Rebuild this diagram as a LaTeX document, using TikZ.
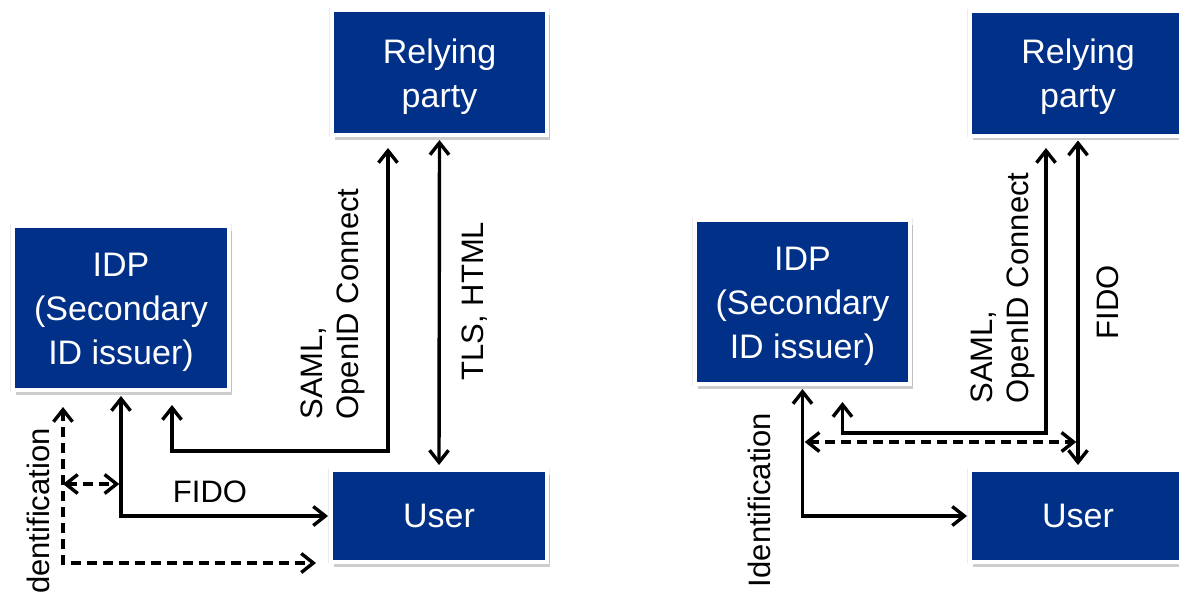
\documentclass[tikz,border=0pt]{standalone}
\usepackage{fontspec}
\setmainfont{Liberation Sans}
\usetikzlibrary{arrows.meta,shadows}
\definecolor{boxblue}{HTML}{003087}
\newcommand{\topstrut}{\rule{0pt}{33pt}}
\begin{document}
\begin{tikzpicture}[x=1pt,y=-1pt,
  box/.style={draw=white, line width=4pt, fill=boxblue, text=white, align=center, inner sep=0pt,
    font=\fontsize{34}{44}\selectfont,
    drop shadow={shadow xshift=3pt, shadow yshift=-4.5pt, opacity=0.28, fill=black!70},
    drop shadow={shadow xshift=0pt, shadow yshift=0pt, shadow scale=1.025, opacity=0.12, fill=black!60}},
  lbl/.style={font=\fontsize{31}{36}\selectfont, inner sep=0pt, align=left},
  conn/.style={line width=3.4pt, {Straight Barb[length=12pt,width=19pt]}-{Straight Barb[length=12pt,width=19pt]}},
  dsh/.style={conn, dash pattern=on 10pt off 6pt}
]
\useasboundingbox (0,0) rectangle (1179,598);
\clip (0,0) rectangle (1179,598);
\fill[white] (0,0) rectangle (1179,598);

% left panel
\node[box, minimum width=215pt, minimum height=125pt] (rpL) at (439.5,72.5) {\topstrut Relying\\party};
\node[box, minimum width=216pt, minimum height=164pt] (idpL) at (121,308) {\topstrut IDP\\(Secondary\\ID issuer)};
\node[box, minimum width=216pt, minimum height=92pt] (userL) at (439,516) {User};

% right panel
\node[box, minimum width=216pt, minimum height=125pt] (rpR) at (1078,73) {\topstrut Relying\\party};
\node[box, minimum width=215pt, minimum height=164pt] (idpR) at (802.5,302) {\topstrut IDP\\(Secondary\\ID issuer)};
\node[box, minimum width=216pt, minimum height=92pt] (userR) at (1078,516) {User};

% left connectors
\coordinate (samlL) at (388,451);
\draw[conn, shorten <=13pt, shorten >=11pt] ([xshift=51pt]idpL.south) |- (samlL) -- (samlL |- rpL.south);
\draw[conn, shorten <=3pt, shorten >=3pt] (rpL.south) -- (userL.north);
\draw[conn, shorten <=4pt, shorten >=1pt] (idpL.south) |- (userL.west);
\coordinate (dA) at (63,484);
\draw[dsh, shorten >=1.7pt] (dA) -- (dA -| idpL.south);
\coordinate (iT) at (63,407);
\coordinate (iB) at (63,563);
\coordinate (iE) at (316,563);
\draw[dsh] (iT) -- (iB) -- (iE);

% right connectors
\draw[conn, shorten <=3pt, shorten >=1pt] (idpR.south) |- (userR.west);
\coordinate (samlR) at (1046,433);
\draw[conn, shorten <=16pt, shorten >=10.5pt] ([xshift=40pt]idpR.south) |- (samlR) -- (samlR |- rpR.south);
\coordinate (dR) at (803,442);
\draw[dsh, shorten <=1.7pt, shorten >=1.7pt] (dR) -- (dR -| rpR.south);
\draw[conn, shorten <=3pt, shorten >=3pt] (rpR.south) -- (userR.north);

% labels
\node[lbl, rotate=90] (lSamlL) at (333,304) {SAML,\\OpenID Connect};
\node[lbl, rotate=90] (lTls) at (475,301) {TLS, HTML};
\node[lbl] (lFidoL) at (210,492) {FIDO};
\node[lbl, rotate=90] (lIdL) at (38,511) {dentification};
\node[lbl, rotate=90] (lSamlR) at (1003,288) {SAML,\\OpenID Connect};
\node[lbl, rotate=90] (lFidoR) at (1108,302) {FIDO};
\node[lbl, rotate=90] (lIdR) at (759,500) {Identification};
\end{tikzpicture}
\end{document}
